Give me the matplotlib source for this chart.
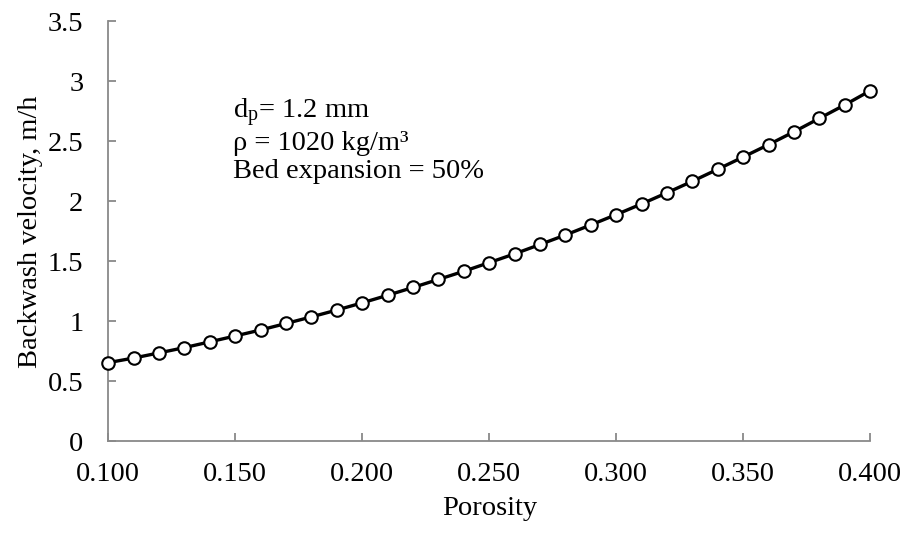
import matplotlib
matplotlib.use('Agg')
import matplotlib.pyplot as plt

plt.rcParams['font.family'] = ['Liberation Serif', 'DejaVu Serif']
plt.rcParams['mathtext.fontset'] = 'custom'
plt.rcParams['mathtext.rm'] = 'Liberation Serif'
plt.rcParams['mathtext.it'] = 'Liberation Serif:italic'

# porosity vs backwash velocity
porosity = [0.10, 0.11, 0.12, 0.13, 0.14, 0.15, 0.16, 0.17, 0.18, 0.19,
            0.20, 0.21, 0.22, 0.23, 0.24, 0.25, 0.26, 0.27, 0.28, 0.29,
            0.30, 0.31, 0.32, 0.33, 0.34, 0.35, 0.36, 0.37, 0.38, 0.39, 0.40]
velocity = [0.657, 0.695, 0.738, 0.782, 0.830, 0.879, 0.929, 0.983, 1.038, 1.095,
            1.155, 1.218, 1.283, 1.350, 1.418, 1.490, 1.563, 1.641, 1.720, 1.804,
            1.890, 1.979, 2.072, 2.168, 2.268, 2.370, 2.473, 2.580, 2.692, 2.804, 2.922]
xticks = [0.10, 0.15, 0.20, 0.25, 0.30, 0.35, 0.40]
yticks = [0, 0.5, 1, 1.5, 2, 2.5, 3, 3.5]

fs = 20.5

fig = plt.figure(figsize=(9.06, 5.33), dpi=100)
ax = fig.add_axes([0.1195, 0.1717, 0.8410, 0.7883])

ax.plot(porosity, velocity, color='black', lw=2.4, marker='o', ms=9,
        mfc='white', mec='black', mew=1.5, clip_on=False, zorder=3)

ax.set_xlim(0.1, 0.4)
ax.set_ylim(0, 3.5)
ax.set_xticks(xticks)
ax.set_xticklabels(['%.3f' % t for t in xticks])
ax.set_yticks(yticks)
ax.set_yticklabels(['%g' % t for t in yticks])

for s in ['top', 'right']:
    ax.spines[s].set_visible(False)
for s in ['left', 'bottom']:
    ax.spines[s].set_color('#898989')
    ax.spines[s].set_linewidth(1.3)
ax.tick_params(axis='both', colors='#898989', labelcolor='black', labelsize=fs,
               length=6, width=1.3, direction='in')
ax.tick_params(axis='y', pad=18)
ax.tick_params(axis='x', pad=15)

ax.set_xlabel('Porosity', fontsize=fs, labelpad=6)
ax.set_ylabel('Backwash velocity, m/h', fontsize=fs, labelpad=3)

ax.text(0.149, 2.69, r'd$_\mathregular{p}$= 1.2 mm', fontsize=fs, va='baseline')
ax.text(0.149, 2.43, 'ρ = 1020 kg/m³', fontsize=fs, va='baseline')
ax.text(0.149, 2.196, 'Bed expansion = 50%', fontsize=fs, va='baseline')

fig.savefig('out.png', dpi=100)
